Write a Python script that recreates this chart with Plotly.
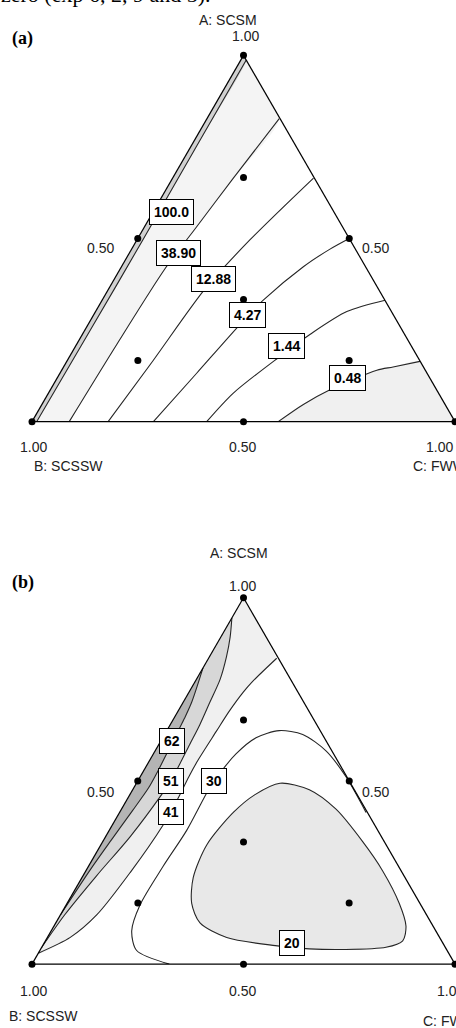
import math
import plotly.graph_objects as go

W, H = 456, 1028

# ---------------- data ----------------
# design points (a: SCSM, b: SCSSW, c: FWW)
design_a = [1.0, 0.0, 0.0, 0.5, 0.5, 0.0, 0.333, 0.667, 0.167, 0.167]
design_b = [0.0, 1.0, 0.0, 0.5, 0.0, 0.5, 0.333, 0.167, 0.667, 0.167]
design_c = [0.0, 0.0, 1.0, 0.0, 0.5, 0.5, 0.333, 0.167, 0.167, 0.667]

# panel (a) contour lines (a and c fractions)
pa_100_a = [0.0, 0.25, 0.5, 0.75, 0.987]
pa_100_c = [0.011, 0.013, 0.014, 0.013, 0.013]
pa_3890_a = [0.0, 0.21, 0.42, 0.53, 0.665, 0.827]
pa_3890_c = [0.088, 0.095, 0.106, 0.123, 0.1435, 0.171]
pa_1288_a = [0.0, 0.167, 0.363, 0.496, 0.665]
pa_1288_c = [0.180, 0.203, 0.228, 0.267, 0.333]
pa_427_a = [0.0, 0.1315, 0.265, 0.3315, 0.423, 0.471, 0.5]
pa_427_c = [0.287, 0.323, 0.359, 0.381, 0.430, 0.469, 0.5]
pa_144_a = [0.0, 0.078, 0.178, 0.238, 0.3005, 0.3315]
pa_144_c = [0.413, 0.437, 0.497, 0.538, 0.594, 0.669]
pa_048_a = [0.0, 0.047, 0.087, 0.1405, 0.1493, 0.1645]
pa_048_c = [0.582, 0.618, 0.661, 0.745, 0.779, 0.835]

pa_label_text = ["100.0", "38.90", "12.88", "4.27", "1.44", "0.48"]
pa_label_a = [0.573, 0.46, 0.389, 0.2925, 0.206, 0.12]
pa_label_c = [0.043, 0.116, 0.235, 0.364, 0.498, 0.687]

# panel (b) contour lines
pb_62_a = [0.8085, 0.7154, 0.671, 0.6402, 0.6104, 0.5753, 0.5293, 0.4806, 0.4184, 0.3386, 0.2588, 0.135]
pb_62_c = [0.0, 0.020, 0.025, 0.027, 0.029, 0.031, 0.034, 0.035, 0.028, 0.018, 0.009, 0.0]
pb_51_a = [0.945, 0.8928, 0.8396, 0.7774, 0.7154, 0.6535, 0.6003, 0.5013, 0.4628, 0.3476, 0.2412, 0.1348, 0.046]
pb_51_c = [0.0, 0.022, 0.040, 0.056, 0.063, 0.070, 0.073, 0.078, 0.075, 0.058, 0.032, 0.010, 0.0]
pb_41_a = [0.835, 0.77, 0.742, 0.69, 0.636, 0.556, 0.511, 0.452, 0.3785, 0.25, 0.135, 0.073, 0.03]
pb_41_c = [0.161, 0.135, 0.128, 0.121, 0.118, 0.114, 0.115, 0.119, 0.120, 0.107, 0.086, 0.054, 0.0]
pb_30_a = [0.4141, 0.5114, 0.5824, 0.6268, 0.6375, 0.6178, 0.5737, 0.5013, 0.4673, 0.3652, 0.2678, 0.1614, 0.0904, 0.0372, 0.0]
pb_30_c = [0.5826, 0.4866, 0.4038, 0.3266, 0.2658, 0.2207, 0.1954, 0.181, 0.1794, 0.1831, 0.1765, 0.1746, 0.1905, 0.2289, 0.3245]
pb_20_a = [0.0505, 0.0726, 0.1125, 0.1657, 0.2367, 0.3253, 0.4141, 0.4628, 0.4939, 0.4761, 0.4229,
           0.3343, 0.2545, 0.1657, 0.1037, 0.0638, 0.046, 0.0399, 0.0418, 0.0505]
pb_20_c = [0.5499, 0.424, 0.3409, 0.2947, 0.2629, 0.2504, 0.2689, 0.2958, 0.3394, 0.4176, 0.5073,
           0.6146, 0.7018, 0.7855, 0.8323, 0.8445, 0.8139, 0.7146, 0.6347, 0.5499]

pb_label_text = ["62", "51", "41", "30", "20"]
pb_label_a = [0.610, 0.501, 0.415, 0.499, 0.057]
pb_label_c = [0.026, 0.078, 0.121, 0.181, 0.586]

axis_titles = ["A: SCSM", "B: SCSSW", "C: FWW"]
tick_text_vertex = "1.00"
tick_text_mid = "0.50"

# ---------------- helpers ----------------
def b_of(a_list, c_list):
    return [1 - a - c for a, c in zip(a_list, c_list)]


def tern_geom(dx, dy):
    xc = (dx[0] + dx[1]) / 2
    yc = (dy[0] + dy[1]) / 2
    wmax = (dx[1] - dx[0]) * W
    hmax = (dy[1] - dy[0]) * H
    r = math.sqrt(4 / 3)
    if wmax > r * hmax:
        h = hmax
        w = h * r
    else:
        w = wmax
        h = w / r
    x0 = W * xc - w / 2
    y0 = H * (1 - yc) - h / 2
    return x0, y0, w, h


def to_paper(geom, a, c):
    x0, y0, w, h = geom
    xp = x0 + w * (c + a / 2)
    yp = y0 + h * (1 - a)
    return xp / W, 1 - yp / H


LINE_COL = "#262626"
fig = go.Figure()


def add_line(sub, a_list, c_list, color=LINE_COL, width=1.1):
    fig.add_trace(go.Scatterternary(
        subplot=sub, a=a_list, b=b_of(a_list, c_list), c=c_list, mode="lines",
        line=dict(color=color, width=width, shape="spline", smoothing=0.8),
        hoverinfo="skip", showlegend=False))


def add_fill(sub, a_list, c_list, alpha):
    fig.add_trace(go.Scatterternary(
        subplot=sub, a=a_list, b=b_of(a_list, c_list), c=c_list, mode="lines",
        fill="toself", fillcolor=f"rgba(0,0,0,{alpha})",
        line=dict(width=0, color="rgba(0,0,0,0)", shape="spline", smoothing=0.6),
        hoverinfo="skip", showlegend=False))


# ---------------- panel (a) ----------------
add_fill("ternary", pa_3890_a + [1.0, 0.0], pa_3890_c + [0.0, 0.0], 0.045)
add_fill("ternary", pa_100_a + [1.0, 0.0], pa_100_c + [0.0, 0.0], 0.14)
add_fill("ternary", pa_048_a + [0.0], pa_048_c + [1.0], 0.06)
for la, lc in [(pa_100_a, pa_100_c), (pa_3890_a, pa_3890_c), (pa_1288_a, pa_1288_c),
               (pa_427_a, pa_427_c), (pa_144_a, pa_144_c), (pa_048_a, pa_048_c)]:
    add_line("ternary", la, lc)

# ---------------- panel (b) ----------------
add_fill("ternary2", pb_41_a + [1.0], pb_41_c + [0.0], 0.06)
add_fill("ternary2", pb_51_a, pb_51_c, 0.10)
add_fill("ternary2", pb_62_a, pb_62_c, 0.16)
add_fill("ternary2", pb_20_a, pb_20_c, 0.09)
for la, lc in [(pb_62_a, pb_62_c), (pb_51_a, pb_51_c), (pb_41_a, pb_41_c),
               (pb_30_a, pb_30_c), (pb_20_a, pb_20_c)]:
    add_line("ternary2", la, lc)

# design points
for sub in ["ternary", "ternary2"]:
    fig.add_trace(go.Scatterternary(
        subplot=sub, a=design_a, b=design_b, c=design_c, mode="markers",
        marker=dict(color="black", size=7), cliponaxis=False,
        hoverinfo="skip", showlegend=False))

axis_style = dict(showgrid=False, showticklabels=False, ticks="", showline=True,
                  linecolor="black", linewidth=1.2, min=0, title=dict(text=""))

dom_a = dict(x=[32 / W, 455 / W], y=[0.768 - 0.1848, 0.768 + 0.1848])
dom_b = dict(x=[32 / W, 455 / W], y=[0.2403 - 0.1848, 0.2403 + 0.1848])

fig.update_layout(
    width=W, height=H, margin=dict(l=0, r=0, t=0, b=0),
    paper_bgcolor="white", plot_bgcolor="white",
    ternary=dict(domain=dom_a, sum=1, bgcolor="white",
                 aaxis=axis_style, baxis=axis_style, caxis=axis_style),
    ternary2=dict(domain=dom_b, sum=1, bgcolor="white",
                  aaxis=axis_style, baxis=axis_style, caxis=axis_style),
)

annotations = []
TXT_FONT = dict(family="Liberation Sans, Arial, sans-serif", size=14, color="#222")


def txt(geom, a, c, text, dx, dy, xanchor="center"):
    xp, yp = to_paper(geom, a, c)
    annotations.append(dict(x=xp, y=yp, xref="paper", yref="paper", text=text,
                            showarrow=False, xanchor=xanchor, yanchor="middle",
                            xshift=dx, yshift=-dy, font=TXT_FONT))


def box_label(geom, a, c, text):
    xp, yp = to_paper(geom, a, c)
    annotations.append(dict(x=xp, y=yp, xref="paper", yref="paper", text="<b>" + text + "</b>",
                            showarrow=False, xanchor="center", yanchor="middle",
                            bgcolor="white", bordercolor="black", borderwidth=1, borderpad=4,
                            font=dict(family="Liberation Sans, Arial, sans-serif", size=14,
                                      color="black")))


ga = tern_geom(dom_a["x"], dom_a["y"])
gb = tern_geom(dom_b["x"], dom_b["y"])

# panel (a) texts
txt(ga, 1, 0, axis_titles[0], -16, -35)
txt(ga, 1, 0, tick_text_vertex, 2, -19)
txt(ga, 0.5, 0, tick_text_mid, -37, 10)
txt(ga, 0.5, 0.5, tick_text_mid, 26, 10)
txt(ga, 0, 0, tick_text_vertex, 1, 25)
txt(ga, 0, 0.5, tick_text_mid, -1, 25)
txt(ga, 0, 1, tick_text_vertex, -16, 25)
txt(ga, 0, 0, axis_titles[1], 0, 44, "left")
txt(ga, 0, 1, axis_titles[2], -44, 44, "left")
for t, a, c in zip(pa_label_text, pa_label_a, pa_label_c):
    box_label(ga, a, c, t)

# panel (b) texts
txt(gb, 1, 0, axis_titles[0], -5, -45)
txt(gb, 1, 0, tick_text_vertex, -1, -12)
txt(gb, 0.5, 0, tick_text_mid, -37, 11)
txt(gb, 0.5, 0.5, tick_text_mid, 26, 11)
txt(gb, 0, 0, tick_text_vertex, 1, 27)
txt(gb, 0, 0.5, tick_text_mid, -1, 27)
txt(gb, 0, 1, tick_text_vertex, -5, 27)
txt(gb, 0, 0, axis_titles[1], -25, 52, "left")
txt(gb, 0, 1, axis_titles[2], -34, 57, "left")
for t, a, c in zip(pb_label_text, pb_label_a, pb_label_c):
    box_label(gb, a, c, t)

SERIF = "Liberation Serif, Times New Roman, serif"
annotations.append(dict(x=10 / W, y=1 - 38.5 / H, xref="paper", yref="paper", text="<b>(a)</b>",
                        showarrow=False, xanchor="left", yanchor="middle",
                        font=dict(family=SERIF, size=18, color="black")))
annotations.append(dict(x=10 / W, y=1 - 582 / H, xref="paper", yref="paper", text="<b>(b)</b>",
                        showarrow=False, xanchor="left", yanchor="middle",
                        font=dict(family=SERIF, size=18, color="black")))
annotations.append(dict(x=-1 / W, y=1, xref="paper", yref="paper",
                        text="zero (exp 6, 2, 9 and 5).",
                        showarrow=False, xanchor="left", yanchor="middle", yshift=6,
                        font=dict(family=SERIF, size=22, color="black")))

fig.update_layout(annotations=annotations)
fig.write_html("out.html", config={"displayModeBar": False},
               post_script="document.body.style.margin='0px';")
